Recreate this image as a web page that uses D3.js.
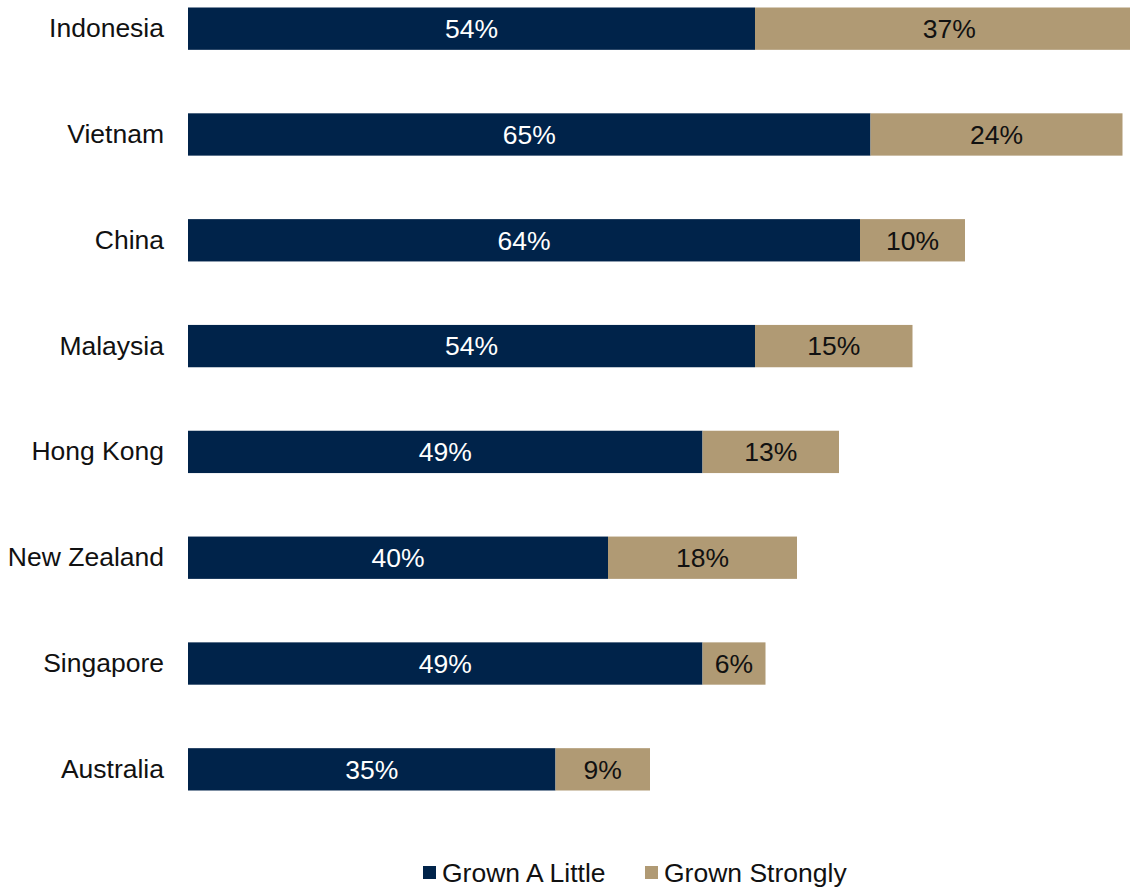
<!DOCTYPE html>
<html><head><meta charset="utf-8">
<script src="https://cdn.jsdelivr.net/npm/d3@7"></script>
<style>body{margin:0;background:#fff;overflow:hidden}svg{display:block}</style>
</head><body>
<svg id="c" width="1130" height="888"></svg>
<script>
const categories = ["Indonesia","Vietnam","China","Malaysia","Hong Kong","New Zealand","Singapore","Australia"];
const grownALittle = [54,65,64,54,49,40,49,35];
const grownStrongly = [37,24,10,15,13,18,6,9];
const seriesNames = ["Grown A Little","Grown Strongly"];
const colors = ["#00234a","#b09a74"];
const textColors = ["#ffffff","#111111"];

const svg = d3.select("#c");
const font = "Liberation Sans, Arial, sans-serif";
const fs = 26.5;
const x = d3.scaleLinear().domain([0,100]).range([188, 188+1050]);
const y = d3.scaleBand().domain(categories).range([7.5, 790.5]).paddingInner(0.6).paddingOuter(0);

const rows = categories.map((c,i)=>({c, vals:[grownALittle[i], grownStrongly[i]]}));
rows.forEach(r=>{
  let acc = 0;
  r.vals.forEach((v,k)=>{
    const x0 = x(acc), x1 = x(acc+v);
    svg.append("rect").attr("x",x0).attr("y",y(r.c)).attr("width",x1-x0).attr("height",y.bandwidth()).attr("fill",colors[k]);
    svg.append("text").attr("x",(x0+x1)/2).attr("y",y(r.c)+y.bandwidth()/2)
      .attr("dy","0.35em").attr("text-anchor","middle").attr("font-family",font).attr("font-size",fs)
      .attr("fill",textColors[k]).text(v+"%");
    acc += v;
  });
});

const yAxis = d3.axisLeft(y).tickSize(0).tickPadding(24);
const ga = svg.append("g").attr("transform","translate(188,0)").call(yAxis);
ga.select(".domain").remove();
ga.selectAll("text").attr("font-family",font).attr("font-size",fs).attr("fill","#111");

const legendX = [423, 645];
seriesNames.forEach((s,k)=>{
  svg.append("rect").attr("x",legendX[k]).attr("y",866).attr("width",13).attr("height",13).attr("fill",colors[k]);
  svg.append("text").attr("x",legendX[k]+19).attr("y",873).attr("dy","0.35em").attr("font-family",font).attr("font-size",fs).attr("fill","#111").text(s);
});
</script>
</body></html>
